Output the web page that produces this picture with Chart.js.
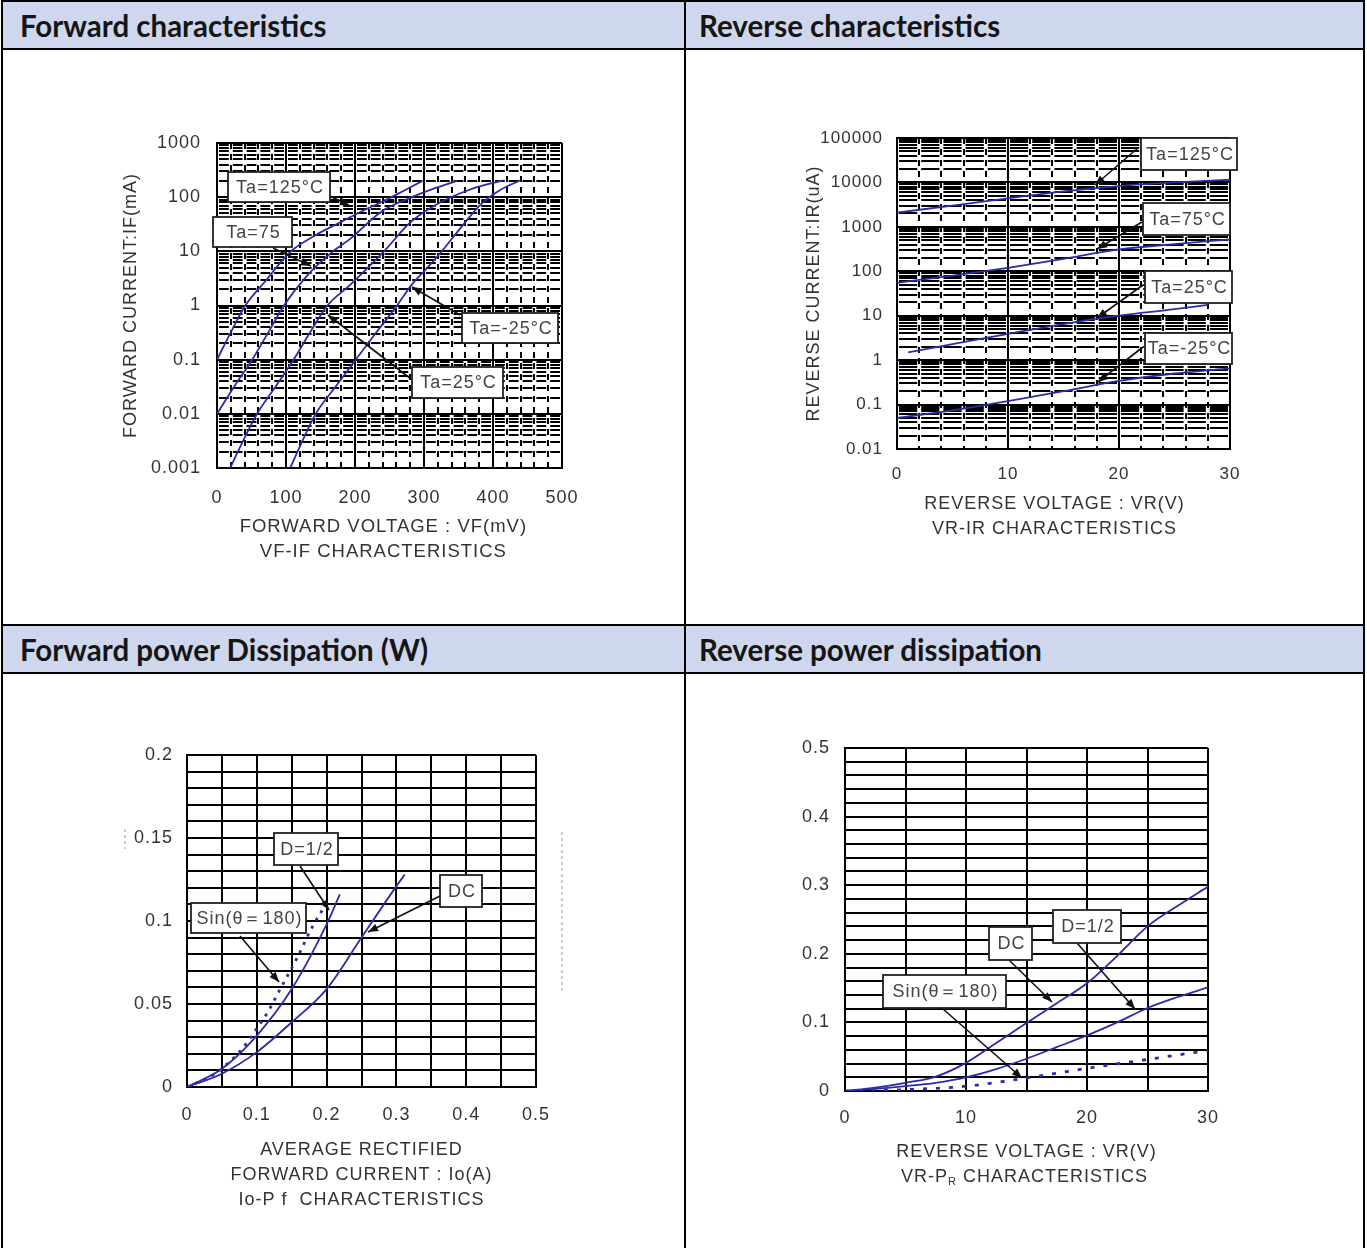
<!DOCTYPE html>
<html>
<head>
<meta charset="utf-8">
<script src="https://cdn.jsdelivr.net/npm/chart.js@4.4.1/dist/chart.umd.min.js"></script>
<style>
html, body { margin: 0; padding: 0; background: #fff; }
body { width: 1367px; height: 1248px; position: relative; overflow: hidden; }
.ln { position: absolute; background: #000; }
.hd { position: absolute; background: #cfd7ee; display: flex; align-items: center; box-sizing: border-box;
      font-family: Lato, "Open Sans", sans-serif; font-weight: 700; font-size: 29.5px; color: #151515; }
canvas { position: absolute; }
</style>
</head>
<body>
<div class="hd" style="left:3px;top:2px;width:681px;height:46px;padding-left:17px">Forward characteristics</div>
<div class="hd" style="left:686px;top:2px;width:677px;height:46px;padding-left:13px">Reverse characteristics</div>
<div class="hd" style="left:3px;top:626px;width:681px;height:46px;padding-left:17px">Forward power Dissipation (W)</div>
<div class="hd" style="left:686px;top:626px;width:677px;height:46px;padding-left:13px">Reverse power dissipation</div>

<div class="ln" style="left:1px;top:0;width:1364px;height:2px"></div>
<div class="ln" style="left:1px;top:48px;width:1364px;height:2px"></div>
<div class="ln" style="left:1px;top:624px;width:1364px;height:2px"></div>
<div class="ln" style="left:1px;top:672px;width:1364px;height:2px"></div>
<div class="ln" style="left:1px;top:0;width:2px;height:1248px"></div>
<div class="ln" style="left:684px;top:0;width:2px;height:1248px"></div>
<div class="ln" style="left:1363px;top:0;width:2px;height:1248px"></div>

<canvas id="fwd"></canvas>
<canvas id="rev"></canvas>
<canvas id="pf"></canvas>
<canvas id="pr"></canvas>

<script>
// ---- forward characteristics: VF (mV) vs IF (mA)
const fwdTa125 = [[0,0.1],[20,0.32],[41,1],[70,2.8],[105,9.5],[140,19],[178,34],[210,55],[241,84],[270,130],[298,200]];
const fwdTa75 = [[0,0.01],[25,0.032],[51,0.1],[75,0.33],[97,1],[130,3.5],[168,10],[193,17],[239,55],[280,97],[315,145],[348,200]];
const fwdTa25 = [[19,0.001],[38,0.0032],[58,0.01],[85,0.032],[111,0.1],[135,0.32],[160,1],[193,2.4],[242,10],[280,34],[318,73],[366,137],[415,205]];
const fwdTaM25 = [[106,0.001],[124,0.0032],[143,0.01],[172,0.032],[201,0.1],[231,0.32],[261,1],[282,2.4],[303,4.7],[324,9.4],[352,26],[382,73],[411,137],[440,205]];
const fwdXTicks = [0, 100, 200, 300, 400, 500];
const fwdXLabels = ['0', '100', '200', '300', '400', '500'];
const fwdYTicks = [0.001, 0.01, 0.1, 1, 10, 100, 1000];
const fwdYLabels = ['0.001', '0.01', '0.1', '1', '10', '100', '1000'];

// ---- reverse characteristics: VR (V) vs IR (uA)
const revTa125 = [[0,2100],[5,3000],[10,4400],[15,6300],[20,8300],[25,10000],[30,11500]];
const revTa75 = [[0,55],[5,80],[10,120],[15,190],[20,310],[25,410],[30,520]];
const revTa25 = [[1,1.5],[5,2.3],[10,3.9],[15,6.5],[20,10],[25,14],[28,17.5]];
const revTaM25 = [[0,0.05],[5,0.074],[10,0.12],[15,0.2],[20,0.34],[25,0.5],[30,0.65]];
const revXTicks = [0, 10, 20, 30];
const revXLabels = ['0', '10', '20', '30'];
const revYTicks = [0.01, 0.1, 1, 10, 100, 1000, 10000, 100000];
const revYLabels = ['0.01', '0.1', '1', '10', '100', '1000', '10000', '100000'];

// ---- forward power dissipation: Io (A) vs Pf (W)
const pfDC = [[0,0],[0.05,0.008],[0.1,0.021],[0.15,0.039],[0.2,0.059],[0.25,0.09],[0.3,0.121],[0.312,0.128]];
const pfHalf = [[0,0],[0.05,0.011],[0.1,0.031],[0.15,0.059],[0.2,0.098],[0.219,0.116]];
const pfSin = [[0,0],[0.04,0.008],[0.079,0.023],[0.098,0.034],[0.117,0.046],[0.131,0.057],[0.158,0.078],[0.179,0.096],[0.205,0.114]];
const pfXTicks = [0, 0.1, 0.2, 0.3, 0.4, 0.5];
const pfXLabels = ['0', '0.1', '0.2', '0.3', '0.4', '0.5'];
const pfYTicks = [0, 0.05, 0.1, 0.15, 0.2];
const pfYLabels = ['0', '0.05', '0.1', '0.15', '0.2'];

// ---- reverse power dissipation: VR (V) vs PR (W)
const prDC = [[0,0],[2.5,0.005],[5,0.012],[7.5,0.021],[10,0.041],[12.5,0.07],[15,0.099],[17.5,0.128],[20,0.157],[22.5,0.197],[25,0.24],[27.5,0.27],[30,0.298]];
const prHalf = [[0,0],[2.5,0.003],[5,0.007],[7.5,0.012],[10,0.02],[12.5,0.032],[15,0.047],[17.5,0.064],[20,0.081],[22.5,0.1],[25,0.121],[27.5,0.137],[30,0.151]];
const prSin = [[0,0],[5,0.002],[10,0.007],[15,0.019],[20,0.033],[25,0.046],[30,0.059]];
const prXTicks = [0, 10, 20, 30];
const prXLabels = ['0', '10', '20', '30'];
const prYTicks = [0, 0.1, 0.2, 0.3, 0.4, 0.5];
const prYLabels = ['0', '0.1', '0.2', '0.3', '0.4', '0.5'];

const FONT = '"Liberation Sans", Arial, sans-serif';
const TEXT = '#333';
const BLUE = '#2b2ca8';
const TITLE_LH = 25;

Chart.register({
  id: 'spacing',
  beforeDraw(chart) { chart.ctx.letterSpacing = '1px'; }
});

const near = (a, b) => Math.abs(a - b) < 1e-9 * Math.max(1, Math.abs(a));
const pts = list => list.map(p => ({x: p[0], y: p[1]}));

function steps(min, max, step) {
  const out = [];
  for (let i = 0; min + i * step <= max + step / 1000; i++) out.push(Math.round((min + i * step) * 1e6) / 1e6);
  return out;
}

function logLines(decades, from, to) {
  const out = [];
  decades.slice(0, -1).forEach(d => { for (let k = from; k <= to; k++) out.push(d * k); });
  return out;
}

function series(list, dash) {
  return {
    data: pts(list), showLine: true, borderColor: BLUE, borderWidth: dash ? 2.8 : 1.8,
    borderDash: dash || [], pointRadius: 0, cubicInterpolationMode: 'monotone', fill: false
  };
}

function scale(o) {
  return {
    type: o.log ? 'logarithmic' : 'linear',
    min: o.min, max: o.max,
    afterBuildTicks: s => { s.ticks = o.lines.map(v => ({value: v})); },
    afterFit: s => { if (o.horizontal) s.height = o.size; else s.width = o.size; },
    ticks: {
      autoSkip: false, maxRotation: 0, minRotation: 0, padding: o.pad, color: TEXT,
      font: {family: FONT, size: o.fontSize || 18},
      callback: v => {
        const i = o.labelAt.findIndex(t => near(t, v));
        return i < 0 ? '' : o.labels[i];
      }
    },
    grid: {color: '#000', lineWidth: 2, drawTicks: false},
    border: {color: '#000', width: 2},
    title: o.title ? {
      display: true, text: o.title, color: TEXT,
      font: {family: FONT, size: o.titleSize || 18, lineHeight: TITLE_LH / (o.titleSize || 18)}, padding: o.titlePad
    } : {display: false}
  };
}

// dashed minor grid drawn through the scales
function minorGrid(spec) {
  return {
    id: 'minorGrid',
    beforeDatasetsDraw(chart) {
      const {ctx, chartArea: a, scales: {x, y}} = chart;
      ctx.save();
      ctx.beginPath();
      ctx.rect(a.left, a.top, a.right - a.left, a.bottom - a.top);
      ctx.clip();
      ctx.strokeStyle = '#000';
      ctx.lineWidth = 1.8;
      const period = x.getPixelForValue(spec.xs[1]) - x.getPixelForValue(spec.xs[0]);
      ctx.setLineDash([period - 4, 4]);
      ctx.lineDashOffset = period - 2;
      spec.ys.forEach(v => {
        const py = Math.round(y.getPixelForValue(v));
        ctx.beginPath(); ctx.moveTo(a.left, py); ctx.lineTo(a.right, py); ctx.stroke();
      });
      ctx.lineWidth = 2;
      ctx.setLineDash(spec.xDash);
      ctx.lineDashOffset = 0;
      spec.xs.forEach(v => {
        const px = Math.round(x.getPixelForValue(v));
        ctx.beginPath(); ctx.moveTo(px, a.top); ctx.lineTo(px, a.bottom); ctx.stroke();
      });
      ctx.restore();
    }
  };
}

function drawArrow(ctx, x0, y0, x1, y1) {
  ctx.beginPath(); ctx.moveTo(x0, y0); ctx.lineTo(x1, y1); ctx.stroke();
  const ang = Math.atan2(y1 - y0, x1 - x0), L = 10, W = 4;
  ctx.beginPath();
  ctx.moveTo(x1, y1);
  ctx.lineTo(x1 - L * Math.cos(ang) + W * Math.sin(ang), y1 - L * Math.sin(ang) - W * Math.cos(ang));
  ctx.lineTo(x1 - L * Math.cos(ang) - W * Math.sin(ang), y1 - L * Math.sin(ang) + W * Math.cos(ang));
  ctx.closePath(); ctx.fill();
}

// label boxes with arrows, given in page pixels
function callouts(list, cell) {
  return {
    id: 'callouts',
    afterDatasetsDraw(chart) {
      const ctx = chart.ctx;
      const ox = cell.l, oy = cell.t;
      ctx.save();
      ctx.letterSpacing = '1px';
      list.forEach(c => {
        ctx.strokeStyle = '#111'; ctx.fillStyle = '#111'; ctx.lineWidth = 1.6; ctx.setLineDash([]);
        drawArrow(ctx, c.tail[0] - ox, c.tail[1] - oy, c.tip[0] - ox, c.tip[1] - oy);
        const [l, t, r, b] = c.box;
        ctx.fillStyle = '#fff';
        ctx.fillRect(l - ox, t - oy, r - l, b - t);
        ctx.strokeStyle = '#222'; ctx.lineWidth = 1.8;
        ctx.strokeRect(l - ox, t - oy, r - l, b - t);
        ctx.fillStyle = '#444';
        ctx.font = '18px ' + FONT;
        ctx.textAlign = 'center'; ctx.textBaseline = 'middle';
        ctx.fillText(c.text, (l + r) / 2 - ox + 1, (t + b) / 2 - oy + 1);
      });
      ctx.restore();
    }
  };
}

function build(id, cfg) {
  const {cell, plot} = cfg;
  const cv = document.getElementById(id);
  cv.style.left = cell.l + 'px';
  cv.style.top = cell.t + 'px';
  cv.width = cell.r - cell.l;
  cv.height = cell.b - cell.t;
  const lh = TITLE_LH;
  const yW = 100;
  const xH = cfg.xTitleGap + lh / 2 + lh * (cfg.xTitle.length - 1);
  const xs = Object.assign({horizontal: true, size: xH, title: cfg.xTitle, titleSize: cfg.xTitleSize, titlePad: {top: 0, bottom: 0}}, cfg.x);
  const ys = Object.assign({size: yW}, cfg.y);
  if (cfg.yTitle) {
    ys.title = cfg.yTitle;
    ys.titlePad = {top: cfg.yTitleX - (plot.l - yW) - lh / 2, bottom: 0};
  }
  return new Chart(cv, {
    type: 'scatter',
    data: {datasets: cfg.datasets},
    options: {
      responsive: false,
      animation: false,
      layout: {padding: {left: plot.l - cell.l - yW, top: plot.t - cell.t, right: cell.r - plot.r, bottom: cell.b - plot.b - xH}},
      plugins: {legend: {display: false}, tooltip: {enabled: false}},
      scales: {x: scale(xs), y: scale(ys)}
    },
    plugins: cfg.plugins || []
  });
}

// ---------- chart 1: VF-IF
const cell1 = {l: 3, t: 50, r: 684, b: 624};
build('fwd', {
  cell: cell1,
  plot: {l: 217, t: 143, r: 562, b: 468},
  xTitle: ['FORWARD VOLTAGE : VF(mV)  ', 'VF-IF CHARACTERISTICS  '],
  xTitleSize: 18.5,
  xTitleGap: 59,
  yTitle: 'FORWARD CURRENT:IF(mA)',
  yTitleX: 131,
  x: {min: 0, max: 500, lines: fwdXTicks, labelAt: fwdXTicks, labels: fwdXLabels, pad: 19},
  y: {log: true, min: 0.001, max: 1000, lines: fwdYTicks, labelAt: fwdYTicks, labels: fwdYLabels, pad: 16},
  datasets: [series(fwdTa125), series(fwdTa75), series(fwdTa25), series(fwdTaM25)],
  plugins: [
    minorGrid({xs: steps(0, 500, 20).filter(v => v % 100 !== 0), ys: logLines(fwdYTicks, 2, 9), xDash: [6, 5]}),
    callouts([
      {text: 'Ta=125°C', box: [228, 172, 330, 202], tail: [330, 196], tip: [350, 206]},
      {text: 'Ta=75', box: [213, 217, 292, 247], tail: [273, 248], tip: [311, 266]},
      {text: 'Ta=-25°C', box: [462, 313, 558, 343], tail: [460, 315], tip: [412, 287]},
      {text: 'Ta=25°C', box: [412, 367, 503, 398], tail: [411, 379], tip: [328, 315]}
    ], cell1)
  ]
});

// ---------- chart 2: VR-IR
const cell2 = {l: 686, t: 50, r: 1363, b: 624};
build('rev', {
  cell: cell2,
  plot: {l: 897, t: 138, r: 1230, b: 449},
  xTitle: ['REVERSE VOLTAGE : VR(V)   ', 'VR-IR CHARACTERISTICS   '],
  xTitleGap: 55,
  yTitle: 'REVERSE CURRENT:IR(uA)',
  yTitleX: 814,
  x: {min: 0, max: 30, lines: revXTicks, labelAt: revXTicks, labels: revXLabels, pad: 15, fontSize: 17},
  y: {log: true, min: 0.01, max: 100000, lines: revYTicks, labelAt: revYTicks, labels: revYLabels, pad: 14, fontSize: 17},
  datasets: [series(revTa125), series(revTa75), series(revTa25), series(revTaM25)],
  plugins: [
    minorGrid({xs: steps(0, 30, 2).filter(v => v % 10 !== 0), ys: logLines(revYTicks, 2, 9), xDash: [6, 5]}),
    callouts([
      {text: 'Ta=125°C', box: [1141, 138, 1237, 170], tail: [1139, 147], tip: [1095, 185]},
      {text: 'Ta=75°C', box: [1143, 203, 1230, 235], tail: [1142, 222], tip: [1097, 249]},
      {text: 'Ta=25°C', box: [1145, 271, 1232, 303], tail: [1143, 285], tip: [1097, 318]},
      {text: 'Ta=-25°C', box: [1145, 333, 1232, 364], tail: [1143, 347], tip: [1098, 382]}
    ], cell2)
  ]
});

// ---------- chart 3: Io-Pf
const cell3 = {l: 3, t: 674, r: 684, b: 1248};
build('pf', {
  cell: cell3,
  plot: {l: 187, t: 755, r: 536, b: 1087},
  xTitle: ['AVERAGE RECTIFIED', 'FORWARD CURRENT : Io(A)', 'Io-P f  CHARACTERISTICS'],
  xTitleGap: 63,
  x: {min: 0, max: 0.5, lines: steps(0, 0.5, 0.05), labelAt: pfXTicks, labels: pfXLabels, pad: 17},
  y: {min: 0, max: 0.2, lines: steps(0, 0.2, 0.01), labelAt: pfYTicks, labels: pfYLabels, pad: 14},
  datasets: [series(pfDC), series(pfHalf), series(pfSin, [3, 6])],
  plugins: [
    {
      id: 'scanMarks',
      afterDraw(chart) {
        const ctx = chart.ctx;
        ctx.save();
        ctx.strokeStyle = '#aaa'; ctx.lineWidth = 1.2; ctx.setLineDash([3, 3]);
        ctx.beginPath(); ctx.moveTo(562 - cell3.l, 832 - cell3.t); ctx.lineTo(562 - cell3.l, 992 - cell3.t); ctx.stroke();
        ctx.beginPath(); ctx.moveTo(125 - cell3.l, 829 - cell3.t); ctx.lineTo(125 - cell3.l, 849 - cell3.t); ctx.stroke();
        ctx.restore();
      }
    },
    callouts([
      {text: 'D=1/2', box: [274, 833, 338, 865], tail: [300, 866], tip: [329, 910]},
      {text: 'Sin(θ＝180)', box: [191, 903, 306, 933], tail: [240, 936], tip: [279, 982]},
      {text: 'DC', box: [440, 875, 482, 907], tail: [440, 896], tip: [368, 932]}
    ], cell3)
  ]
});

// ---------- chart 4: VR-PR
const cell4 = {l: 686, t: 674, r: 1363, b: 1248};
build('pr', {
  cell: cell4,
  plot: {l: 845, t: 748, r: 1208, b: 1091},
  xTitle: ['REVERSE VOLTAGE : VR(V)', ''],
  xTitleGap: 61,
  x: {min: 0, max: 30, lines: steps(0, 30, 5), labelAt: prXTicks, labels: prXLabels, pad: 16},
  y: {min: 0, max: 0.5, lines: steps(0, 0.5, 0.02), labelAt: prYTicks, labels: prYLabels, pad: 15},
  datasets: [series(prDC), series(prHalf), series(prSin, [4, 9])],
  plugins: [
    {
      id: 'subTitle',
      afterDraw(chart) {
        const ctx = chart.ctx;
        const a = chart.chartArea;
        const cx = (a.left + a.right) / 2 - 2;
        const cy = a.bottom + 61 + 25;
        const parts = [['VR-P', 18, 0], ['R', 11, 5], [' CHARACTERISTICS', 18, 0]];
        ctx.save();
        ctx.letterSpacing = '1px';
        ctx.fillStyle = TEXT;
        ctx.textBaseline = 'middle';
        ctx.textAlign = 'left';
        let w = 0;
        parts.forEach(p => { ctx.font = p[1] + 'px ' + FONT; w += ctx.measureText(p[0]).width; });
        let x = cx - w / 2;
        parts.forEach(p => {
          ctx.font = p[1] + 'px ' + FONT;
          ctx.fillText(p[0], x, cy + p[2]);
          x += ctx.measureText(p[0]).width;
        });
        ctx.restore();
      }
    },
    callouts([
      {text: 'DC', box: [989, 927, 1032, 960], tail: [1009, 960], tip: [1052, 1002]},
      {text: 'D=1/2', box: [1053, 910, 1121, 943], tail: [1077, 943], tip: [1135, 1009]},
      {text: 'Sin(θ＝180)', box: [883, 975, 1006, 1008], tail: [943, 1009], tip: [1022, 1078]}
    ], cell4)
  ]
});
</script>
</body>
</html>
